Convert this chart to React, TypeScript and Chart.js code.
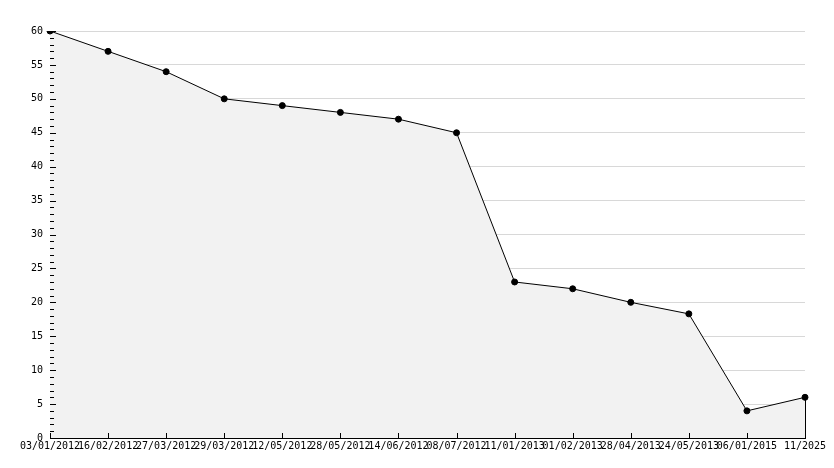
import React, { useEffect, useRef } from "react";
import { Chart, registerables } from "chart.js";

Chart.register(...registerables);

const dateLabels: string[] = [
  "03/01/2012", "16/02/2012", "27/03/2012", "29/03/2012", "12/05/2012",
  "28/05/2012", "14/06/2012", "08/07/2012", "11/01/2013", "01/02/2013",
  "28/04/2013", "24/05/2013", "06/01/2015", "11/2025",
];
const seriesValues: number[] = [60, 57, 54, 50, 49, 48, 47, 45, 23, 22, 20, 18.3, 4, 6];
const yMin = 0;
const yMax = 60;
const yMajorStep = 5;
const yMinorStep = 1;

const FONT = { family: "'DejaVu Sans Mono', monospace", size: 10 };

const innerTicksPlugin = {
  id: "innerTicks",
  afterDraw(chart: any) {
    const { ctx, chartArea, scales } = chart;
    const x = scales.x;
    const y = scales.y;
    const left = Math.round(chartArea.left);
    ctx.save();
    ctx.strokeStyle = "#000";
    ctx.lineWidth = 1;
    ctx.beginPath();
    for (let v = yMin; v <= yMax; v += yMinorStep) {
      const py = Math.round(y.getPixelForValue(v)) + 0.5;
      const len = v % yMajorStep === 0 ? 6 : 4;
      ctx.moveTo(left, py);
      ctx.lineTo(left + len, py);
    }
    for (let i = 0; i < dateLabels.length; i++) {
      const px = Math.round(x.getPixelForTick(i)) + 0.5;
      ctx.moveTo(px, chartArea.bottom);
      ctx.lineTo(px, chartArea.bottom - 5);
    }
    const meta = chart.getDatasetMeta(0);
    const last = meta.data[meta.data.length - 1];
    if (last) {
      const px = Math.round(last.x) + 0.5;
      ctx.moveTo(px, last.y);
      ctx.lineTo(px, chartArea.bottom);
    }
    ctx.stroke();
    ctx.restore();
  },
};

export default function App() {
  const canvasRef = useRef<HTMLCanvasElement | null>(null);

  useEffect(() => {
    if (!canvasRef.current) return;
    const chart = new Chart(canvasRef.current, {
      type: "line",
      data: {
        labels: dateLabels,
        datasets: [
          {
            data: seriesValues,
            borderColor: "#000",
            borderWidth: 1,
            backgroundColor: "#f2f2f2",
            fill: "origin",
            tension: 0,
            pointRadius: 3,
            pointHoverRadius: 3,
            pointBackgroundColor: "#000",
            pointBorderColor: "#000",
            pointBorderWidth: 1,
          },
        ],
      },
      options: {
        animation: false,
        responsive: false,
        maintainAspectRatio: false,
        layout: { padding: { top: 23, right: 21, left: 0, bottom: 0 } },
        plugins: {
          legend: { display: false },
          tooltip: { enabled: false },
        },
        scales: {
          x: {
            offset: false,
            grid: { display: false, drawTicks: false },
            border: { display: true, color: "#000", width: 1 },
            ticks: {
              autoSkip: false,
              maxRotation: 0,
              minRotation: 0,
              padding: 2,
              color: "#000",
              font: FONT,
            },
            afterFit: (scale: any) => {
              scale.height = 22;
              scale.paddingLeft = 0;
              scale.paddingRight = 0;
            },
          },
          y: {
            min: yMin,
            max: yMax,
            grid: { color: "#d8d8d8", drawTicks: false },
            border: { display: true, color: "#000", width: 1 },
            ticks: {
              stepSize: yMajorStep,
              padding: 7,
              color: "#000",
              font: FONT,
            },
            afterFit: (scale: any) => {
              scale.width = 42;
              scale.paddingTop = 0;
              scale.paddingBottom = 0;
            },
          },
        },
      },
      plugins: [innerTicksPlugin],
    });
    return () => chart.destroy();
  }, []);

  return (
    <div style={{ width: 818, height: 452, background: "#fff" }}>
      <canvas ref={canvasRef} width={818} height={452} style={{ display: "block" }} />
    </div>
  );
}
